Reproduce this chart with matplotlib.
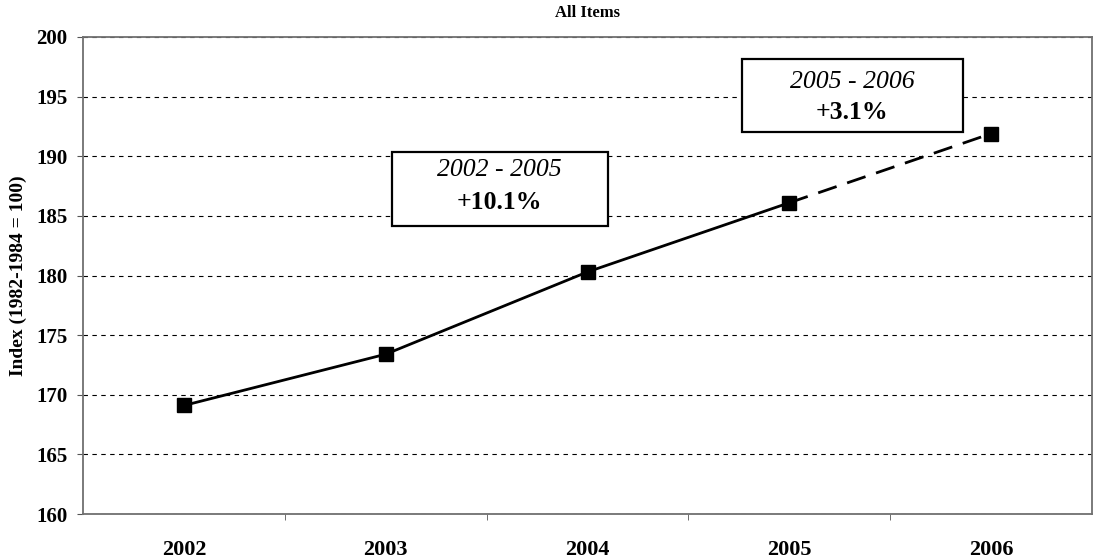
import matplotlib
matplotlib.use("Agg")
import matplotlib.pyplot as plt
from matplotlib.patches import Rectangle
from matplotlib.ticker import FixedLocator

years = ["2002", "2003", "2004", "2005", "2006"]
index_values = [169.1, 173.4, 180.3, 186.1, 191.9]
y_ticks = [160, 165, 170, 175, 180, 185, 190, 195, 200]
box_texts = [("2002 - 2005", "+10.1%"), ("2005 - 2006", "+3.1%")]

serif = ["Liberation Serif", "DejaVu Serif"]

fig = plt.figure(figsize=(10.95, 5.59), dpi=100)
ax = fig.add_axes([83/1095, 45/559, 1009/1095, 477/559])

x = list(range(len(years)))
# solid part 2002-2005
ax.plot(x[:4], index_values[:4], color="black", lw=2.0, zorder=3)
# dashed projection 2005-2006
ax.plot(x[3:], index_values[3:], color="black", lw=2.0, ls=(0, (7, 4)), zorder=3)
ax.plot(x, index_values, ls="none", marker="s", ms=10.5, color="black", zorder=4)

ax.set_xlim(-0.5, 4.5)
ax.set_ylim(160, 200)
ax.set_yticks(y_ticks)
ax.set_xticks(x)
ax.set_xticklabels(years)
ax.xaxis.set_minor_locator(FixedLocator([0.5, 1.5, 2.5, 3.5]))
ax.tick_params(axis="x", which="major", length=0, pad=19)
ax.tick_params(axis="x", which="minor", length=4, direction="out", color="#555555")
ax.tick_params(axis="y", length=4, direction="out", color="#555555", pad=7)

for lab in ax.get_xticklabels():
    lab.set_fontfamily(serif)
    lab.set_fontweight("bold")
    lab.set_fontsize(16)
for lab in ax.get_yticklabels():
    lab.set_fontfamily(serif)
    lab.set_fontweight("bold")
    lab.set_fontsize(15)

ax.yaxis.grid(True, color="black", ls=(0, (4, 4)), lw=0.8)
ax.set_axisbelow(True)
for sp in ax.spines.values():
    sp.set_color("#707070")
    sp.set_linewidth(1.3)

ax.set_ylabel("Index (1982-1984 = 100)", fontfamily=serif, fontweight="bold",
              fontsize=14, va="center")
ax.yaxis.set_label_coords(-0.064, 0.5)
fig.text((83 + 1092) / 2 / 1095, 1 - 13/559, "All Items", ha="center", va="center",
         fontfamily=serif, fontweight="bold", fontsize=12)

# (x0, y0, w, h, line1 frac, line2 frac) in axes coordinates
boxes = [(0.306, 0.604, 0.214, 0.155, 0.76, 0.31),
         (0.653, 0.801, 0.219, 0.153, 0.69, 0.26)]
for (bx, by, bw, bh, f1, f2), (t1, t2) in zip(boxes, box_texts):
    ax.add_patch(Rectangle((bx, by), bw, bh, transform=ax.transAxes,
                           facecolor="white", edgecolor="black", lw=1.6, zorder=5))
    ax.text(bx + bw/2, by + bh*f1, t1, transform=ax.transAxes, ha="center",
            va="center", fontfamily=serif, fontstyle="italic", fontsize=18.5, zorder=6)
    ax.text(bx + bw/2, by + bh*f2, t2, transform=ax.transAxes, ha="center",
            va="center", fontfamily=serif, fontweight="bold", fontsize=18.5, zorder=6)

fig.savefig("out.png", dpi=100)
